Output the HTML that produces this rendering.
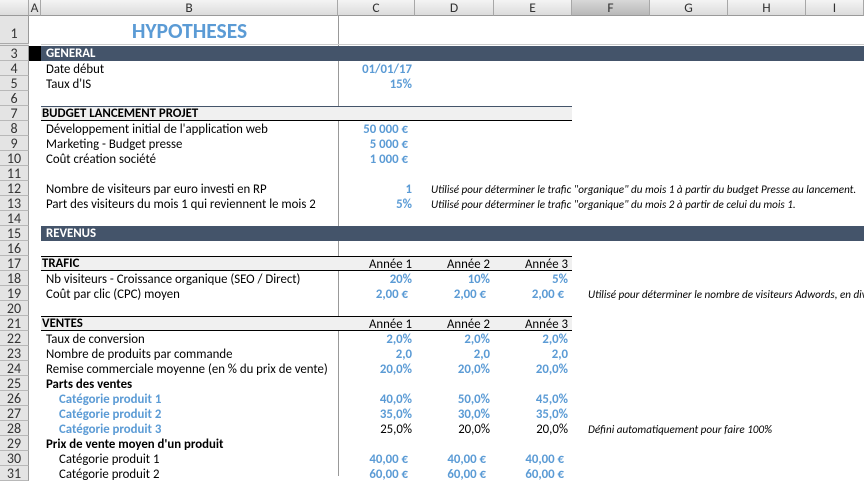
<!DOCTYPE html>
<html><head><meta charset="utf-8"><style>
*{margin:0;padding:0;box-sizing:border-box}
body{width:864px;height:476px;overflow:hidden;background:#fff;font-family:Calibri,Carlito,"Liberation Sans",sans-serif;font-size:12.8px;color:#000;position:relative}
.a{position:absolute;white-space:nowrap}
.rh{position:absolute;left:0;width:29px;height:15px;background:#e4e4e4;border-bottom:1px solid #b8b8b8;border-right:1px solid #9a9a9a;text-align:center;font-size:14px;line-height:15px;color:#333}
.ch{position:absolute;top:0;height:16px;background:linear-gradient(#f4f4f4,#dcdcdc);border-right:1px solid #a8a8a8;border-bottom:1px solid #9a9a9a;text-align:center;font-size:13.5px;line-height:16px;color:#333}
.t,.v,.k,.i{position:absolute;line-height:15px;white-space:nowrap;padding-top:1px}
.v{text-align:right;color:#5b9bd5;font-weight:bold}
.k{text-align:right}
.i{font-style:italic;font-size:11.1px}
.b{font-weight:bold}
.band{position:absolute;left:41px;width:823px;height:15px;background:#44546a;color:#fff;font-weight:bold;line-height:15px;padding-left:5px}
.sec{position:absolute;left:41px;width:531px;height:15px;background:#f0f0f0;border-bottom:1.5px solid #000;line-height:14px;font-weight:bold;padding-left:1px}
</style></head><body>
<div class="ch" style="left:0;width:29px"></div>
<div class="ch" style="left:29px;width:12px">A</div>
<div class="ch" style="left:41px;width:297px">B</div>
<div class="ch" style="left:338px;width:77px">C</div>
<div class="ch" style="left:415px;width:79px">D</div>
<div class="ch" style="left:494px;width:78px">E</div>
<div class="ch" style="left:572px;width:78px;background:linear-gradient(#d8d8d8,#b8b8b8)">F</div>
<div class="ch" style="left:650px;width:78px">G</div>
<div class="ch" style="left:728px;width:78px">H</div>
<div class="ch" style="left:806px;width:58px">I</div>
<div class="rh" style="top:16px;height:28px;line-height:36px">1</div>
<div class="a" style="top:43px;left:0;width:29px;height:3px;background:#e4e4e4;border-top:1px solid #aaa;border-bottom:1px solid #aaa"></div>
<div class="a b" style="left:41px;width:297px;top:17px;text-align:center;font-size:21.5px;line-height:28px;color:#5b9bd5">HYPOTHESES</div>
<div class="a" style="left:338px;top:16px;width:1px;height:460px;background:#999"></div>
<div class="a" style="left:41px;top:44px;width:823px;height:1px;background:#ccc"></div>

<div class="rh" style="top:46px">3</div><div class="rh" style="top:61px">4</div><div class="rh" style="top:76px">5</div><div class="rh" style="top:91px">6</div><div class="rh" style="top:106px">7</div><div class="rh" style="top:121px">8</div><div class="rh" style="top:136px">9</div><div class="rh" style="top:151px">10</div><div class="rh" style="top:166px">11</div><div class="rh" style="top:181px">12</div><div class="rh" style="top:196px">13</div><div class="rh" style="top:211px">14</div><div class="rh" style="top:226px">15</div><div class="rh" style="top:241px">16</div><div class="rh" style="top:256px">17</div><div class="rh" style="top:271px">18</div><div class="rh" style="top:286px">19</div><div class="rh" style="top:301px">20</div><div class="rh" style="top:316px">21</div><div class="rh" style="top:331px">22</div><div class="rh" style="top:346px">23</div><div class="rh" style="top:361px">24</div><div class="rh" style="top:376px">25</div><div class="rh" style="top:391px">26</div><div class="rh" style="top:406px">27</div><div class="rh" style="top:421px">28</div><div class="rh" style="top:436px">29</div><div class="rh" style="top:451px">30</div><div class="rh" style="top:466px">31</div>

<div class="a" style="left:29px;top:46px;width:12px;height:15px;background:#000"></div>
<div class="band" style="top:46px">GENERAL</div>
<div class="t" style="top:61px;left:46px">Date début</div><div class="v" style="top:61px;right:452px">01/01/17</div>
<div class="t" style="top:76px;left:46px">Taux d'IS</div><div class="v" style="top:76px;right:452px">15%</div>

<div class="sec" style="top:106px;border-top:1px solid #44546a">BUDGET LANCEMENT PROJET</div>
<div class="t" style="top:121px;left:46px">Développement initial de l'application web</div><div class="v" style="top:121px;right:456px">50 000 €</div>
<div class="t" style="top:136px;left:46px">Marketing - Budget presse</div><div class="v" style="top:136px;right:456px">5 000 €</div>
<div class="t" style="top:151px;left:46px">Coût création société</div><div class="v" style="top:151px;right:456px">1 000 €</div>
<div class="t" style="top:181px;left:46px">Nombre de visiteurs par euro investi en RP</div><div class="v" style="top:181px;right:452px">1</div>
<div class="i" style="top:181px;left:431px">Utilisé pour déterminer le trafic "organique" du mois 1 à partir du budget Presse au lancement.</div>
<div class="t" style="top:196px;left:46px">Part des visiteurs du mois 1 qui reviennent le mois 2</div><div class="v" style="top:196px;right:452px">5%</div>
<div class="i" style="top:196px;left:431px">Utilisé pour déterminer le trafic "organique" du mois 2 à partir de celui du mois 1.</div>

<div class="band" style="top:226px">REVENUS</div>

<div class="sec" style="top:256px;border-top:1.5px solid #000">TRAFIC</div>
<div class="k" style="top:256px;right:452px">Année 1</div><div class="k" style="top:256px;right:374px">Année 2</div><div class="k" style="top:256px;right:296px">Année 3</div>
<div class="t" style="top:271px;left:46px">Nb visiteurs - Croissance organique (SEO / Direct)</div>
<div class="v" style="top:271px;right:452px">20%</div><div class="v" style="top:271px;right:374px">10%</div><div class="v" style="top:271px;right:296px">5%</div>
<div class="t" style="top:286px;left:46px">Coût par clic (CPC) moyen</div>
<div class="v" style="top:286px;right:456px">2,00 €</div><div class="v" style="top:286px;right:378px">2,00 €</div><div class="v" style="top:286px;right:300px">2,00 €</div>
<div class="i" style="top:286px;left:588px">Utilisé pour déterminer le nombre de visiteurs Adwords, en div</div>

<div class="sec" style="top:316px;border-top:1.5px solid #000">VENTES</div>
<div class="k" style="top:316px;right:452px">Année 1</div><div class="k" style="top:316px;right:374px">Année 2</div><div class="k" style="top:316px;right:296px">Année 3</div>
<div class="t" style="top:331px;left:46px">Taux de conversion</div>
<div class="v" style="top:331px;right:452px">2,0%</div><div class="v" style="top:331px;right:374px">2,0%</div><div class="v" style="top:331px;right:296px">2,0%</div>
<div class="t" style="top:346px;left:46px">Nombre de produits par commande</div>
<div class="v" style="top:346px;right:452px">2,0</div><div class="v" style="top:346px;right:374px">2,0</div><div class="v" style="top:346px;right:296px">2,0</div>
<div class="t" style="top:361px;left:46px">Remise commerciale moyenne (en % du prix de vente)</div>
<div class="v" style="top:361px;right:452px">20,0%</div><div class="v" style="top:361px;right:374px">20,0%</div><div class="v" style="top:361px;right:296px">20,0%</div>
<div class="t b" style="top:376px;left:46px">Parts des ventes</div>
<div class="t b" style="top:391px;left:59px;color:#5b9bd5">Catégorie produit 1</div>
<div class="v" style="top:391px;right:452px">40,0%</div><div class="v" style="top:391px;right:374px">50,0%</div><div class="v" style="top:391px;right:296px">45,0%</div>
<div class="t b" style="top:406px;left:59px;color:#5b9bd5">Catégorie produit 2</div>
<div class="v" style="top:406px;right:452px">35,0%</div><div class="v" style="top:406px;right:374px">30,0%</div><div class="v" style="top:406px;right:296px">35,0%</div>
<div class="t b" style="top:421px;left:59px;color:#5b9bd5">Catégorie produit 3</div>
<div class="k" style="top:421px;right:452px">25,0%</div><div class="k" style="top:421px;right:374px">20,0%</div><div class="k" style="top:421px;right:296px">20,0%</div>
<div class="i" style="top:421px;left:588px">Défini automatiquement pour faire 100%</div>
<div class="t b" style="top:436px;left:46px">Prix de vente moyen d'un produit</div>
<div class="t" style="top:451px;left:59px">Catégorie produit 1</div>
<div class="v" style="top:451px;right:456px">40,00 €</div><div class="v" style="top:451px;right:378px">40,00 €</div><div class="v" style="top:451px;right:300px">40,00 €</div>
<div class="t" style="top:466px;left:59px">Catégorie produit 2</div>
<div class="v" style="top:466px;right:456px">60,00 €</div><div class="v" style="top:466px;right:378px">60,00 €</div><div class="v" style="top:466px;right:300px">60,00 €</div>
</body></html>
